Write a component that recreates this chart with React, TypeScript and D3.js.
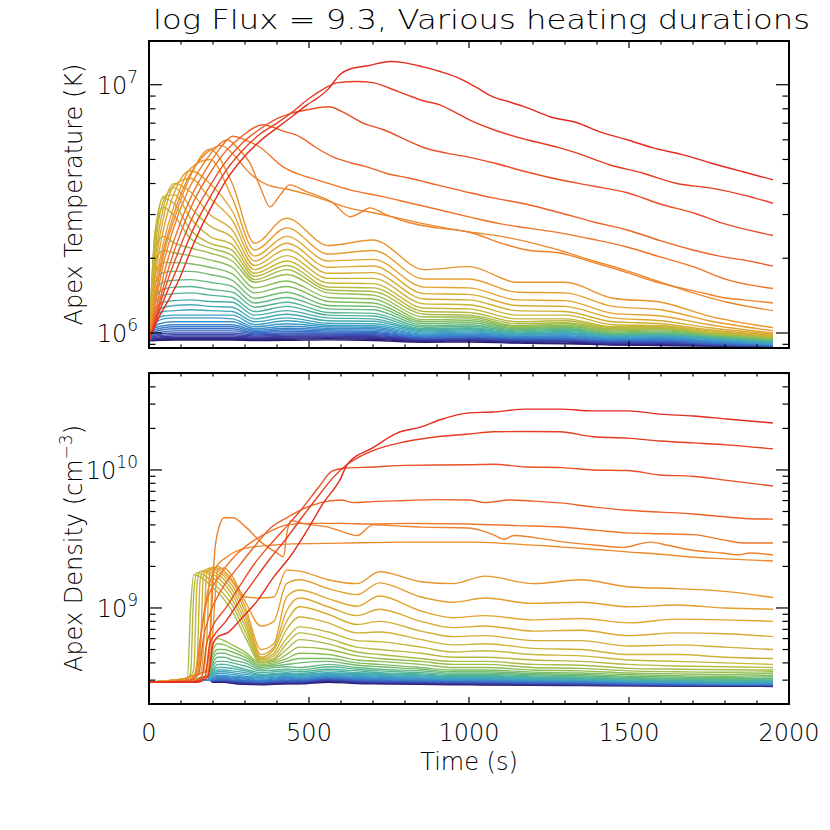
import React from "react";
import * as d3 from "d3";

// ---------- axis / label data ----------
const xMajorTicks = [0, 500, 1000, 1500, 2000];
const xTickLabels = ["0", "500", "1000", "1500", "2000"];
const tempMajor = [1, 10];
const tempMajorExp = ["6", "7"];
const tempMinor = [0.9, 2, 3, 4, 5, 6, 7, 8, 9];
const densMajor = [1, 10];
const densMajorExp = ["9", "10"];
const densMinor = [0.3, 0.4, 0.5, 0.6, 0.7, 0.8, 0.9, 2, 3, 4, 5, 6, 7, 8, 9, 20, 30, 40, 50];

// colour stops: short heating (dark indigo) -> long heating (red)
const colorStops = ["#2a1b6e", "#3b3fa6", "#3b78cc", "#3fa2c6", "#4fb49a", "#86be58", "#c4b83a", "#e3a32f", "#f07b2b", "#e32b1f"];

// ---------- long-duration curves: [time s, value] (T in MK, n in 1e9 cm^-3) ----------
const upperTemp: [number, number][][] = [
  [[0,0.93],[30,1.15],[60,1.35],[90,1.6],[140,2.3],[195,3.22],[240,4.1],[290,5.0],[345,5.9],[400,6.7],[450,7.5],[494,8.3],[530,8.9],[560,9.6],[597,11.0],[630,11.6],[680,11.9],[753,12.4],[800,12.25],[856,11.8],[910,11.3],[963,10.7],[1020,9.8],[1075,8.94],[1130,8.5],[1181,8.08],[1253,7.43],[1338,7.03],[1409,6.46],[1494,6.0],[1575,5.57],[1669,5.22],[1753,4.85],[1856,4.46],[1950,4.14]],
  [[0,0.93],[30,1.2],[60,1.5],[90,1.85],[140,2.65],[195,3.6],[240,4.5],[290,5.4],[345,6.3],[400,7.0],[450,7.8],[500,8.8],[545,9.6],[590,10.2],[650,10.3],[700,10.2],[750,9.7],[806,9.1],[860,8.6],[909,8.3],[960,7.7],[1003,7.2],[1075,6.6],[1181,6.0],[1284,5.57],[1338,5.3],[1441,4.75],[1544,4.4],[1650,4.0],[1753,3.84],[1856,3.6],[1950,3.33]],
  [[0,0.93],[30,1.25],[60,1.65],[90,2.1],[140,3.0],[195,4.0],[240,4.9],[290,5.8],[345,6.6],[400,7.3],[450,7.7],[500,7.95],[560,8.15],[620,7.6],[669,7.0],[731,6.6],[815,5.9],[856,5.6],[930,5.3],[1003,5.1],[1075,4.85],[1181,4.45],[1284,4.14],[1390,3.9],[1494,3.67],[1600,3.3],[1700,3.05],[1800,2.75],[1950,2.47]],
  [[0,0.93],[30,1.3],[60,1.8],[90,2.35],[140,3.4],[195,4.5],[240,5.4],[290,6.2],[356,6.9],[420,6.5],[472,6.17],[520,5.6],[575,5.12],[630,4.85],[681,4.67],[740,4.4],[815,4.2],[900,3.95],[1003,3.67],[1075,3.5],[1180,3.3],[1284,3.05],[1390,2.8],[1494,2.6],[1600,2.35],[1700,2.16],[1800,2.02],[1856,1.97],[1950,1.86]],
  [[0,0.93],[25,1.3],[50,1.8],[80,2.4],[130,3.5],[180,4.6],[220,5.5],[262,6.2],[300,6.0],[347,5.6],[419,4.67],[470,4.35],[525,4.14],[628,3.77],[731,3.54],[815,3.34],[900,3.15],[1003,2.93],[1100,2.75],[1181,2.65],[1284,2.53],[1390,2.38],[1494,2.22],[1600,2.02],[1700,1.85],[1806,1.64],[1950,1.51]],
  [[0,0.93],[22,1.35],[45,1.9],[75,2.6],[120,3.7],[170,4.8],[210,5.6],[245,6.0],[280,5.5],[315,4.84],[350,3.8],[378,3.22],[410,3.6],[440,3.95],[494,3.7],[575,3.34],[628,2.94],[660,3.05],[690,3.19],[740,3.0],[815,2.78],[900,2.65],[1000,2.55],[1100,2.3],[1181,2.16],[1284,2.1],[1390,1.92],[1494,1.75],[1575,1.62],[1650,1.53],[1730,1.45],[1806,1.38],[1860,1.36],[1950,1.32]],
  [[0,0.93],[20,1.4],[40,2.0],[70,2.8],[110,3.9],[160,5.0],[195,5.5],[225,5.7],[260,5.3],[315,4.4],[370,3.95],[430,3.8],[500,3.6],[560,3.4],[620,3.2],[700,3.05],[780,2.9],[860,2.75],[1000,2.55],[1100,2.45],[1200,2.3],[1284,2.15],[1390,1.95],[1494,1.78],[1600,1.6],[1700,1.45],[1806,1.33],[1950,1.23]],
];

const upperDens: [number, number][][] = [
  [[0,0.29],[150,0.29],[185,0.32],[200,0.55],[215,0.62],[245,0.66],[285,0.82],[340,1.14],[390,1.68],[440,2.34],[495,3.68],[545,5.77],[597,8.5],[620,11.0],[700,14.5],[775,18.5],[850,20.5],[910,23.1],[1000,25.9],[1075,26.3],[1181,27.6],[1284,27.6],[1388,26.8],[1494,26.8],[1597,25.4],[1700,24.6],[1806,23.4],[1950,21.9]],
  [[0,0.29],[140,0.29],[175,0.32],[190,0.55],[205,0.64],[240,0.8],[280,1.1],[330,1.6],[380,2.3],[430,3.2],[480,4.6],[530,6.5],[575,8.8],[620,11.0],[700,13.8],[800,16.0],[900,17.4],[1000,18.2],[1075,18.9],[1180,19.0],[1284,18.9],[1388,17.4],[1494,17.0],[1597,16.2],[1700,15.7],[1806,15.2],[1950,14.2]],
  [[0,0.29],[130,0.29],[165,0.32],[180,0.55],[195,0.7],[240,1.0],[280,1.4],[330,2.1],[380,2.9],[430,3.9],[480,5.3],[530,7.5],[572,9.8],[610,10.3],[700,10.5],[800,10.8],[1000,10.9],[1075,11.0],[1181,10.5],[1290,10.4],[1388,10.0],[1494,9.9],[1597,9.2],[1700,9.0],[1806,8.4],[1950,7.65]],
  [[0,0.29],[130,0.3],[155,0.33],[170,0.6],[190,0.9],[230,1.4],[280,2.0],[330,2.8],[380,3.8],[430,4.5],[480,5.2],[537,5.8],[600,6.05],[640,5.8],[700,5.9],[800,6.0],[900,6.1],[1000,6.06],[1050,5.8],[1128,6.06],[1200,5.95],[1284,5.77],[1388,5.4],[1494,5.1],[1597,4.95],[1700,4.8],[1806,4.56],[1860,4.45],[1950,4.4]],
  [[0,0.29],[120,0.3],[145,0.33],[160,0.6],[180,1.1],[220,1.7],[270,2.4],[320,3.0],[380,3.6],[431,4.0],[500,4.1],[600,4.1],[700,4.06],[800,4.1],[1000,4.06],[1150,3.95],[1284,3.86],[1400,3.65],[1494,3.5],[1600,3.45],[1700,3.4],[1800,3.1],[1856,2.96],[1950,2.96]],
  [[0,0.29],[150,0.3],[185,0.33],[195,0.9],[205,2.5],[218,3.8],[235,4.5],[262,4.5],[300,3.9],[350,3.0],[400,2.5],[420,2.35],[432,3.6],[445,4.3],[480,4.1],[560,3.85],[600,3.6],[650,3.35],[700,4.0],[760,3.95],[850,3.85],[1000,3.8],[1075,3.4],[1110,3.15],[1140,3.35],[1200,3.25],[1300,3.0],[1388,2.86],[1480,2.75],[1566,3.0],[1620,2.85],[1693,2.63],[1790,2.5],[1840,2.43],[1880,2.5],[1950,2.42]],
  [[0,0.29],[120,0.3],[150,0.33],[165,0.7],[180,1.2],[205,1.9],[250,2.4],[300,2.7],[380,2.85],[430,2.9],[600,2.95],[800,3.0],[1000,3.0],[1150,2.9],[1284,2.77],[1400,2.65],[1494,2.55],[1600,2.45],[1693,2.34],[1800,2.27],[1950,2.19]],
];

// ---------- shorter-duration curves: one row per time knot, one entry per curve ----------
const tempTimes = [0, 20, 45, 80, 130, 190, 260, 330, 430, 560, 700, 860, 1000, 1150, 1300, 1450, 1600, 1750, 1950];
const tempLowerCols: number[][] = [
  [0.93,0.93,0.93,0.93,0.93,0.93,0.93,0.93,0.93, 0.93,0.93,0.93,0.93,0.93,0.93,0.93,0.93,0.93,0.93,0.93,0.93, 0.93,0.93,0.93,0.93,0.93,0.93,0.93,0.93,0.93,0.93,0.93,0.93],
  [1.4,1.55,1.7,1.85,2.0,2.2,2.4,2.6,2.6, 2.2,1.95,1.75,1.6,1.48,1.4,1.33,1.26,1.21,1.17,1.13,1.1, 1.07,1.05,1.03,1.01,0.995,0.98,0.97,0.96,0.95,0.945,0.94,0.933],
  [2.05,2.3,2.6,2.9,3.2,3.4,3.55,3.5,3.2, 2.45,2.15,1.92,1.75,1.6,1.5,1.42,1.33,1.27,1.22,1.17,1.14, 1.1,1.07,1.05,1.03,1.01,0.995,0.98,0.968,0.957,0.95,0.942,0.935],
  [2.9,3.3,3.7,3.95,4.0,3.85,3.6,3.3,2.95, 2.3,2.1,1.92,1.77,1.63,1.53,1.44,1.35,1.29,1.23,1.18,1.15, 1.11,1.08,1.06,1.04,1.02,1.0,0.985,0.972,0.96,0.952,0.944,0.936],
  [4.3,4.6,4.5,4.2,3.7,3.2,2.9,2.6,2.4, 2.2,2.05,1.9,1.77,1.64,1.54,1.45,1.36,1.3,1.24,1.18,1.15, 1.11,1.08,1.06,1.04,1.02,1.0,0.985,0.972,0.96,0.952,0.944,0.936],
  [5.5,5.0,4.0,3.5,3.0,2.7,2.45,2.3,2.2, 2.1,1.97,1.84,1.72,1.6,1.5,1.42,1.34,1.28,1.23,1.18,1.15, 1.11,1.08,1.06,1.04,1.02,1.0,0.985,0.972,0.96,0.952,0.944,0.936],
  [4.0,3.5,3.1,2.85,2.6,2.42,2.27,2.15,2.05, 1.95,1.84,1.73,1.63,1.54,1.46,1.39,1.33,1.27,1.22,1.18,1.14, 1.11,1.08,1.06,1.04,1.02,1.0,0.985,0.972,0.96,0.952,0.944,0.936],
  [2.3,2.16,2.04,1.95,1.87,1.8,1.74,1.69,1.64, 1.6,1.52,1.45,1.38,1.32,1.27,1.22,1.18,1.14,1.11,1.08,1.06, 1.04,1.025,1.013,1.003,0.993,0.983,0.973,0.964,0.956,0.948,0.94,0.933],
  [2.9,2.65,2.45,2.3,2.17,2.05,1.95,1.87,1.8, 1.72,1.62,1.54,1.46,1.39,1.33,1.28,1.23,1.19,1.15,1.12,1.09, 1.065,1.045,1.03,1.015,1.0,0.99,0.98,0.97,0.962,0.952,0.943,0.934],
  [2.25,2.08,1.95,1.84,1.74,1.66,1.59,1.53,1.49, 1.45,1.39,1.34,1.29,1.25,1.21,1.18,1.15,1.12,1.095,1.075,1.06, 1.045,1.032,1.02,1.01,1.0,0.99,0.982,0.973,0.965,0.957,0.948,0.938],
  [2.37,2.15,1.98,1.86,1.75,1.66,1.58,1.52,1.47, 1.42,1.37,1.32,1.28,1.24,1.2,1.17,1.14,1.115,1.09,1.07,1.055, 1.04,1.027,1.015,1.005,0.995,0.985,0.977,0.968,0.96,0.952,0.943,0.933],
  [1.8,1.65,1.53,1.44,1.37,1.31,1.26,1.22,1.19, 1.16,1.13,1.11,1.09,1.07,1.055,1.04,1.03,1.02,1.01,1.0,0.99, 0.982,0.975,0.968,0.962,0.956,0.95,0.945,0.94,0.935,0.93,0.925,0.918],
  [1.85,1.65,1.52,1.43,1.36,1.3,1.25,1.21,1.18, 1.16,1.14,1.12,1.1,1.08,1.065,1.05,1.04,1.03,1.02,1.01,1.0, 0.99,0.982,0.975,0.968,0.962,0.956,0.95,0.945,0.94,0.935,0.93,0.92],
  [1.6,1.46,1.36,1.29,1.23,1.18,1.14,1.11,1.09, 1.07,1.06,1.05,1.04,1.03,1.02,1.01,1.0,0.995,0.99,0.985,0.98, 0.973,0.966,0.96,0.954,0.948,0.942,0.936,0.93,0.925,0.92,0.915,0.91],
  [1.6,1.45,1.35,1.28,1.22,1.18,1.14,1.12,1.1, 1.09,1.075,1.065,1.055,1.045,1.035,1.025,1.015,1.005,0.995,0.99,0.985, 0.975,0.966,0.958,0.951,0.945,0.94,0.935,0.93,0.925,0.92,0.91,0.905],
  [1.38,1.28,1.2,1.15,1.11,1.08,1.06,1.05,1.04, 1.03,1.02,1.01,1.0,0.995,0.99,0.985,0.98,0.975,0.97,0.965,0.96, 0.953,0.946,0.94,0.934,0.928,0.922,0.917,0.912,0.907,0.903,0.899,0.895],
  [1.33,1.24,1.17,1.12,1.09,1.07,1.06,1.05,1.045, 1.04,1.03,1.02,1.01,1.0,0.995,0.99,0.985,0.98,0.975,0.97,0.965, 0.957,0.95,0.943,0.936,0.929,0.922,0.916,0.91,0.905,0.9,0.895,0.89],
  [1.17,1.12,1.08,1.05,1.03,1.02,1.01,1.005,1.0, 0.995,0.99,0.985,0.98,0.975,0.97,0.965,0.96,0.955,0.95,0.945,0.94, 0.932,0.925,0.918,0.912,0.906,0.9,0.898,0.895,0.892,0.89,0.888,0.885],
  [1.05,1.02,1.0,0.99,0.98,0.975,0.97,0.965,0.96, 0.955,0.95,0.945,0.94,0.935,0.93,0.925,0.92,0.915,0.91,0.905,0.9, 0.898,0.895,0.893,0.89,0.888,0.886,0.884,0.882,0.88,0.879,0.878,0.877],
];

const densTimes = [0, 120, 130, 140, 150, 160, 170, 180, 190, 200, 215, 235, 260, 300, 350, 390, 430, 470, 560, 650, 720, 850, 950, 1050, 1200, 1350, 1500, 1650, 1800, 1950];
const densLowerCols: number[][] = [
  [0.29,0.29,0.29,0.29,0.29,0.29,0.29,0.29,0.29, 0.29,0.29,0.29,0.29,0.29,0.29,0.29,0.29,0.29,0.29,0.29,0.29, 0.29,0.29,0.29,0.29,0.29,0.29,0.29,0.29,0.29,0.29,0.29,0.29],
  [0.31,0.31,0.31,0.31,0.31,0.31,0.31,0.31,0.31, 0.3,0.3,0.3,0.3,0.3,0.3,0.3,0.3,0.3,0.3,0.3,0.3, 0.295,0.295,0.295,0.295,0.295,0.295,0.295,0.295,0.295,0.295,0.295,0.295],
  [0.32,0.32,0.32,0.32,0.32,0.32,0.32,0.34,1.0, 0.3,0.3,0.3,0.3,0.3,0.3,0.3,0.3,0.3,0.3,0.3,0.3, 0.295,0.295,0.295,0.295,0.295,0.295,0.295,0.295,0.295,0.295,0.295,0.295],
  [0.325,0.325,0.325,0.325,0.325,0.325,0.36,1.3,1.75, 0.3,0.3,0.3,0.3,0.3,0.3,0.3,0.3,0.3,0.3,0.3,0.3, 0.295,0.295,0.295,0.295,0.295,0.295,0.295,0.295,0.295,0.295,0.295,0.295],
  [0.33,0.33,0.33,0.33,0.33,0.4,1.5,1.8,1.72, 0.305,0.305,0.305,0.305,0.305,0.305,0.305,0.305,0.305,0.305,0.305,0.305, 0.295,0.295,0.295,0.295,0.295,0.295,0.295,0.295,0.295,0.295,0.295,0.295],
  [0.335,0.335,0.335,0.335,0.45,1.6,1.85,1.78,1.68, 0.31,0.31,0.31,0.31,0.31,0.31,0.31,0.31,0.31,0.31,0.31,0.31, 0.297,0.297,0.297,0.297,0.297,0.297,0.297,0.297,0.297,0.297,0.297,0.297],
  [0.34,0.34,0.34,0.5,1.7,1.88,1.83,1.74,1.62, 0.315,0.315,0.315,0.315,0.315,0.315,0.315,0.315,0.315,0.315,0.315,0.315, 0.3,0.3,0.3,0.3,0.3,0.3,0.3,0.3,0.3,0.3,0.3,0.3],
  [0.35,0.36,0.55,1.8,1.92,1.86,1.8,1.68,1.55, 0.32,0.32,0.32,0.32,0.32,0.32,0.32,0.32,0.32,0.32,0.32,0.32, 0.3,0.3,0.3,0.3,0.3,0.3,0.3,0.3,0.3,0.3,0.3,0.3],
  [0.38,0.6,1.85,1.95,1.9,1.82,1.74,1.6,1.48, 0.4,0.38,0.36,0.35,0.34,0.335,0.33,0.325,0.32,0.315,0.31,0.305, 0.3,0.3,0.3,0.3,0.3,0.3,0.3,0.3,0.3,0.3,0.3,0.3],
  [0.7,1.9,1.98,1.93,1.85,1.76,1.66,1.52,1.4, 0.55,0.5,0.46,0.43,0.4,0.38,0.36,0.35,0.34,0.33,0.32,0.315, 0.31,0.305,0.3,0.3,0.3,0.3,0.298,0.296,0.295,0.294,0.292,0.29],
  [1.9,2.0,1.92,1.85,1.76,1.66,1.55,1.4,1.3, 0.6,0.55,0.5,0.47,0.44,0.41,0.39,0.37,0.355,0.345,0.335,0.325, 0.32,0.315,0.31,0.305,0.3,0.3,0.298,0.296,0.295,0.294,0.292,0.29],
  [1.95,1.85,1.78,1.7,1.6,1.5,1.38,1.25,1.15, 0.58,0.54,0.5,0.47,0.44,0.41,0.39,0.37,0.355,0.345,0.335,0.325, 0.32,0.315,0.31,0.305,0.3,0.3,0.298,0.296,0.295,0.294,0.292,0.29],
  [1.7,1.6,1.55,1.45,1.35,1.25,1.15,1.05,0.95, 0.54,0.51,0.48,0.45,0.42,0.4,0.38,0.365,0.35,0.34,0.33,0.32, 0.315,0.31,0.305,0.3,0.298,0.296,0.294,0.292,0.29,0.288,0.286,0.285],
  [1.2,1.12,1.03,0.95,0.87,0.8,0.74,0.68,0.62, 0.48,0.46,0.44,0.42,0.4,0.38,0.36,0.35,0.34,0.33,0.32,0.315, 0.31,0.305,0.3,0.297,0.294,0.292,0.29,0.288,0.286,0.284,0.282,0.28],
  [1.18,0.74,0.5,0.46,0.44,0.43,0.42,0.41,0.4, 0.4,0.39,0.38,0.37,0.36,0.35,0.34,0.33,0.325,0.32,0.315,0.31, 0.305,0.3,0.297,0.294,0.292,0.29,0.288,0.286,0.284,0.282,0.28,0.278],
  [1.2,0.8,0.55,0.52,0.5,0.47,0.45,0.43,0.42, 0.41,0.4,0.39,0.38,0.37,0.355,0.345,0.335,0.33,0.325,0.32,0.315, 0.31,0.305,0.3,0.297,0.294,0.292,0.29,0.288,0.286,0.284,0.282,0.28],
  [1.88,1.5,1.2,0.95,0.8,0.7,0.6,0.55,0.5, 0.46,0.43,0.41,0.39,0.375,0.36,0.35,0.34,0.335,0.33,0.325,0.32, 0.315,0.31,0.305,0.3,0.297,0.294,0.292,0.29,0.288,0.286,0.284,0.282],
  [1.85,1.6,1.35,1.18,1.02,0.86,0.73,0.66,0.59, 0.52,0.47,0.43,0.4,0.37,0.355,0.345,0.335,0.33,0.325,0.32,0.315, 0.31,0.307,0.304,0.3,0.297,0.294,0.292,0.29,0.288,0.286,0.284,0.282],
  [1.6,1.38,1.17,1.02,0.9,0.78,0.67,0.6,0.55, 0.5,0.46,0.43,0.41,0.39,0.375,0.36,0.35,0.34,0.335,0.33,0.325, 0.32,0.317,0.314,0.311,0.308,0.305,0.302,0.3,0.298,0.296,0.294,0.29],
  [1.5,1.25,1.03,0.88,0.76,0.66,0.58,0.52,0.48, 0.45,0.42,0.4,0.385,0.37,0.36,0.35,0.34,0.335,0.33,0.325,0.32, 0.315,0.31,0.307,0.304,0.3,0.298,0.295,0.292,0.29,0.288,0.286,0.284],
  [1.83,1.52,1.22,0.98,0.8,0.67,0.57,0.5,0.46, 0.43,0.41,0.39,0.375,0.36,0.35,0.34,0.335,0.33,0.325,0.32,0.315, 0.31,0.306,0.303,0.3,0.297,0.294,0.292,0.29,0.288,0.286,0.284,0.282],
  [1.55,1.2,0.95,0.8,0.68,0.59,0.52,0.47,0.43, 0.41,0.39,0.37,0.36,0.35,0.34,0.333,0.327,0.322,0.317,0.313,0.31, 0.306,0.302,0.3,0.297,0.294,0.292,0.29,0.288,0.286,0.284,0.282,0.28],
  [1.5,1.1,0.85,0.72,0.62,0.54,0.48,0.44,0.41, 0.39,0.37,0.355,0.345,0.337,0.33,0.324,0.319,0.315,0.311,0.308,0.305, 0.302,0.3,0.297,0.294,0.292,0.29,0.288,0.286,0.284,0.282,0.28,0.278],
  [1.7,1.18,0.88,0.74,0.63,0.55,0.49,0.44,0.41, 0.39,0.37,0.355,0.345,0.337,0.33,0.324,0.319,0.315,0.311,0.308,0.305, 0.302,0.299,0.296,0.293,0.291,0.289,0.287,0.285,0.283,0.281,0.279,0.277],
  [1.5,1.08,0.82,0.68,0.58,0.51,0.46,0.42,0.39, 0.37,0.355,0.343,0.335,0.328,0.322,0.317,0.313,0.309,0.306,0.303,0.3, 0.298,0.295,0.292,0.29,0.288,0.286,0.284,0.282,0.28,0.278,0.276,0.275],
  [1.6,1.1,0.84,0.69,0.58,0.5,0.45,0.41,0.385, 0.365,0.35,0.338,0.33,0.323,0.317,0.312,0.308,0.305,0.302,0.3,0.298, 0.296,0.293,0.29,0.288,0.286,0.284,0.282,0.28,0.278,0.276,0.275,0.274],
  [1.42,1.02,0.78,0.63,0.53,0.46,0.42,0.39,0.365, 0.35,0.338,0.328,0.32,0.314,0.309,0.305,0.301,0.298,0.296,0.294,0.292, 0.29,0.288,0.286,0.284,0.282,0.28,0.278,0.277,0.276,0.275,0.274,0.273],
  [1.38,1.05,0.83,0.66,0.54,0.46,0.41,0.38,0.36, 0.345,0.333,0.323,0.316,0.31,0.305,0.301,0.298,0.295,0.293,0.291,0.289, 0.287,0.285,0.283,0.281,0.279,0.278,0.277,0.276,0.275,0.274,0.273,0.272],
  [1.32,1.0,0.82,0.65,0.52,0.44,0.4,0.375,0.357, 0.342,0.33,0.32,0.313,0.307,0.302,0.298,0.295,0.292,0.29,0.288,0.286, 0.284,0.282,0.28,0.279,0.278,0.277,0.276,0.275,0.274,0.273,0.272,0.271],
  [1.19,0.98,0.8,0.62,0.5,0.43,0.39,0.37,0.355, 0.345,0.335,0.325,0.318,0.31,0.305,0.3,0.296,0.293,0.29,0.288,0.286, 0.284,0.282,0.28,0.279,0.278,0.277,0.276,0.275,0.274,0.273,0.272,0.27],
];

const FONT = "'DejaVu Sans', 'Liberation Sans', Arial, sans-serif";

type Pt = [number, number];

export default function App() {
  const PX0 = 149, PX1 = 789;
  const TOP0 = 41, TOP1 = 348, BOT0 = 373, BOT1 = 704;
  const x = d3.scaleLinear().domain([0, 2000]).range([PX0, PX1]);
  const yT = d3.scaleLog().domain([0.87, 15]).range([TOP1, TOP0]);
  const yN = d3.scaleLog().domain([0.2015, 50.4]).range([BOT1, BOT0]);

  const nLower = tempLowerCols[0].length;
  const nTotal = upperTemp.length + nLower;
  const palette = d3.piecewise(d3.interpolateRgb, colorStops);
  const colorOf = (rank: number) => palette(1 - rank / (nTotal - 1));

  const lineT = d3.line<Pt>().x(d => x(d[0])).y(d => yT(d[1])).curve(d3.curveMonotoneX);
  const lineN = d3.line<Pt>().x(d => x(d[0])).y(d => yN(d[1])).curve(d3.curveMonotoneX);

  const lowerT: Pt[][] = d3.range(nLower).map(j => tempTimes.map((t, i) => [t, tempLowerCols[i][j] ?? tempLowerCols[i][tempLowerCols[i].length - 1]] as Pt));
  const lowerN: Pt[][] = d3.range(nLower).map(j => densTimes.map((t, i) => [t, densLowerCols[i][j] ?? densLowerCols[i][densLowerCols[i].length - 1]] as Pt));

  const series: { rank: number; t: Pt[]; n: Pt[] }[] = [];
  for (let j = nLower - 1; j >= 0; j--) series.push({ rank: upperTemp.length + j, t: lowerT[j], n: lowerN[j] });
  for (let k = upperTemp.length - 1; k >= 0; k--) series.push({ rank: k, t: upperTemp[k], n: upperDens[k] });

  const xMinor = d3.range(0, 2001, 100).filter(v => v % 500 !== 0);

  const xTicksFor = (y0: number, y1: number, key: string) => {
    const major = 7, minor = 3.5;
    return (
      <g key={key} stroke="#000" strokeWidth={1.2}>
        {xMajorTicks.map(v => (
          <g key={"M" + v}>
            <line x1={x(v)} x2={x(v)} y1={y1} y2={y1 - major} />
            <line x1={x(v)} x2={x(v)} y1={y0} y2={y0 + major} />
          </g>
        ))}
        {xMinor.map(v => (
          <g key={"m" + v}>
            <line x1={x(v)} x2={x(v)} y1={y1} y2={y1 - minor} />
            <line x1={x(v)} x2={x(v)} y1={y0} y2={y0 + minor} />
          </g>
        ))}
      </g>
    );
  };

  const yTicksFor = (scale: any, majors: number[], minors: number[], key: string) => {
    const major = 13, minor = 6.5;
    return (
      <g key={key} stroke="#000" strokeWidth={1.2}>
        {majors.map(v => (
          <g key={"M" + v}>
            <line x1={PX0} x2={PX0 + major} y1={scale(v)} y2={scale(v)} />
            <line x1={PX1} x2={PX1 - major} y1={scale(v)} y2={scale(v)} />
          </g>
        ))}
        {minors.map(v => (
          <g key={"m" + v}>
            <line x1={PX0} x2={PX0 + minor} y1={scale(v)} y2={scale(v)} />
            <line x1={PX1} x2={PX1 - minor} y1={scale(v)} y2={scale(v)} />
          </g>
        ))}
      </g>
    );
  };

  const yLabels = (scale: any, majors: number[], exps: string[], key: string) => (
    <g key={key} fontFamily={FONT} fontWeight={200} fontSize={24} fill="#000">
      {majors.map((v, i) => (
        <text key={v} x={138} y={scale(v) + 9} textAnchor="end">
          10<tspan dy={-11} fontSize={17}>{exps[i]}</tspan>
        </text>
      ))}
    </g>
  );

  return (
    <div style={{ position: "absolute", left: 0, top: 0 }}>
      <svg width={830} height={830} viewBox="0 0 830 830" style={{ display: "block", background: "#fff" }}>
        <defs>
          <clipPath id="clipTop"><rect x={PX0} y={TOP0} width={PX1 - PX0} height={TOP1 - TOP0} /></clipPath>
          <clipPath id="clipBot"><rect x={PX0} y={BOT0} width={PX1 - PX0} height={BOT1 - BOT0} /></clipPath>
        </defs>
        <rect x={0} y={0} width={830} height={830} fill="#fff" />

        <g clipPath="url(#clipTop)" fill="none" strokeWidth={1.4} strokeLinejoin="round">
          {series.map((s, i) => (
            <path key={"t" + i} d={lineT(s.t) || ""} stroke={colorOf(s.rank)} />
          ))}
        </g>
        <g clipPath="url(#clipBot)" fill="none" strokeWidth={1.4} strokeLinejoin="round">
          {series.map((s, i) => (
            <path key={"n" + i} d={lineN(s.n) || ""} stroke={colorOf(s.rank)} />
          ))}
        </g>

        <rect x={PX0} y={TOP0} width={PX1 - PX0} height={TOP1 - TOP0} fill="none" stroke="#000" strokeWidth={2} />
        <rect x={PX0} y={BOT0} width={PX1 - PX0} height={BOT1 - BOT0} fill="none" stroke="#000" strokeWidth={2} />

        {xTicksFor(TOP0, TOP1, "xt")}
        {xTicksFor(BOT0, BOT1, "xb")}
        {yTicksFor(yT, tempMajor, tempMinor, "yt")}
        {yTicksFor(yN, densMajor, densMinor, "yb")}
        {yLabels(yT, tempMajor, tempMajorExp, "lt")}
        {yLabels(yN, densMajor, densMajorExp, "lb")}

        <g fontFamily={FONT} fontWeight={200} fontSize={24} fill="#000">
          {xMajorTicks.map((v, i) => (
            <text key={v} x={x(v)} y={741} textAnchor="middle">{xTickLabels[i]}</text>
          ))}
          <text x={469} y={770} textAnchor="middle">Time (s)</text>
          <text x={153} y={29} fontSize={27} textLength={657} lengthAdjust="spacingAndGlyphs">log Flux = 9.3, Various heating durations</text>
          <text transform={`translate(82,${(TOP0 + TOP1) / 2}) rotate(-90)`} textAnchor="middle">Apex Temperature (K)</text>
          <text transform={`translate(82,${(BOT0 + BOT1) / 2 + 10}) rotate(-90)`} textAnchor="middle">
            Apex Density (cm<tspan dy={-10} fontSize={17}>−3</tspan><tspan dy={10}>)</tspan>
          </text>
        </g>
      </svg>
    </div>
  );
}
